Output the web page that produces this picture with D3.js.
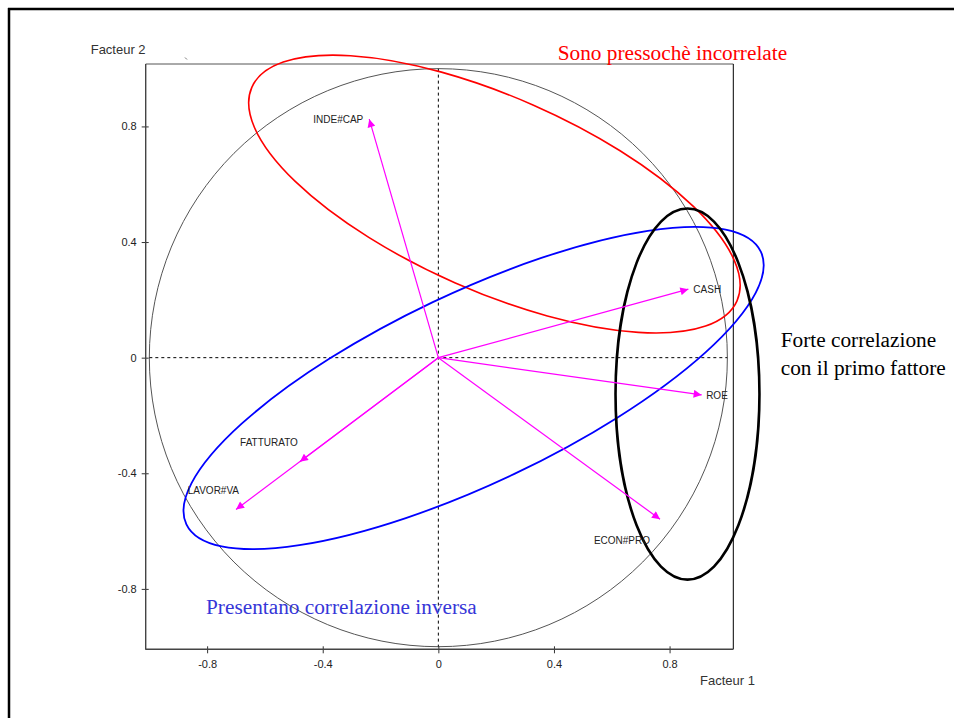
<!DOCTYPE html>
<html><head><meta charset="utf-8">
<script src="https://cdn.jsdelivr.net/npm/d3@7"></script>
<style>
html,body{margin:0;padding:0;background:#fff;}
svg{display:block;}
</style></head>
<body>
<script>
// ---- data ----
const variables = ["INDE#CAP","CASH","ROE","ECON#PRO","FATTURATO","LAVOR#VA"];
const factor1 = [-0.239, 0.865, 0.911, 0.767, -0.479, -0.700];
const factor2 = [0.825, 0.237, -0.129, -0.559, -0.360, -0.525];
const tickValues = [-0.8, -0.4, 0, 0.4, 0.8];
const axisTitles = ["Facteur 1", "Facteur 2"];
const groupNotes = ["Sono pressochè incorrelate", "Presentano correlazione inversa", "Forte correlazione", "con il primo fattore"];
// grouping ellipses (centre and radii in factor units, angle in degrees)
const ellipseCx = [0.194, 0.122, 0.862];
const ellipseCy = [0.566, -0.105, -0.126];
const ellipseRx = [0.917, 1.100, 0.249];
const ellipseRy = [0.336, 0.329, 0.642];
const ellipseAngle = [23.75, -25.4, 0];

// label placement (anchor, dx, dy in px) – layout only
const labelPlace = [["end",-6,4],["start",5,4],["start",4.5,4],["end",-10,25],["end",-2,-16],["end",3,-15]];

const W = 954, H = 718;
const svg = d3.select("body").append("svg").attr("width", W).attr("height", H);

const x = d3.scaleLinear().domain([-1.0125, 1.0205]).range([145.7, 733.3]);
const y = d3.scaleLinear().domain([-1.009, 1.016]).range([649.3, 64]);
const k = x(1) - x(0);

// outer frame
svg.append("line").attr("x1",8).attr("x2",W).attr("y1",9).attr("y2",9).attr("stroke","#000").attr("stroke-width",2.5);
svg.append("line").attr("x1",9).attr("x2",9).attr("y1",8).attr("y2",H).attr("stroke","#000").attr("stroke-width",2.5);
svg.append("line").attr("x1",185).attr("y1",57.5).attr("x2",187).attr("y2",59.5).attr("stroke","#777").attr("stroke-width",1);

// plot box
const x0 = x.range()[0], x1 = x.range()[1], yTop = y.range()[1], yBot = y.range()[0];
svg.append("line").attr("x1",x0).attr("x2",x1).attr("y1",yTop).attr("y2",yTop).attr("stroke","#555").attr("stroke-width",1);
svg.append("line").attr("x1",x1).attr("x2",x1).attr("y1",yTop).attr("y2",yBot).attr("stroke","#000").attr("stroke-width",1);

const fmt = d => String(d);
const gy = svg.append("g").attr("transform",`translate(${x0},0)`)
  .call(d3.axisLeft(y).tickValues(tickValues).tickFormat(fmt).tickSize(4).tickPadding(5));
const gx = svg.append("g").attr("transform",`translate(0,${yBot})`)
  .call(d3.axisBottom(x).tickValues(tickValues).tickFormat(fmt).tickSize(4).tickPadding(6.7));
[gx, gy].forEach(g => {
  g.select(".domain").remove();
  g.selectAll("text").attr("font-family","Liberation Sans, Arial, sans-serif").attr("font-size",11).attr("fill","#222");
  g.selectAll(".tick line").attr("stroke","#333");
});
svg.append("line").attr("x1",x0).attr("x2",x0).attr("y1",yTop).attr("y2",yBot+0.5).attr("stroke","#444").attr("stroke-width",1.4);
svg.append("line").attr("x1",x0).attr("x2",x1).attr("y1",yBot).attr("y2",yBot).attr("stroke","#444").attr("stroke-width",1.4);
gy.selectAll(".tick line").attr("x1",3).attr("x2",-4);
gx.selectAll(".tick line").attr("y1",-3).attr("y2",4);

// axis titles
svg.append("text").attr("x",90.7).attr("y",53.5).text(axisTitles[1])
  .attr("font-family","Liberation Sans, Arial, sans-serif").attr("font-size",13).attr("fill","#333");
svg.append("text").attr("x",700).attr("y",684.5).text(axisTitles[0])
  .attr("font-family","Liberation Sans, Arial, sans-serif").attr("font-size",13).attr("fill","#333");

// correlation circle
svg.append("circle").attr("cx",x(0)).attr("cy",y(0)).attr("r",k)
  .attr("fill","none").attr("stroke","#555").attr("stroke-width",1);

// dashed axes
svg.append("line").attr("x1",x(-1)).attr("x2",x(1)).attr("y1",y(0)).attr("y2",y(0))
  .attr("stroke","#000").attr("stroke-width",1).attr("stroke-dasharray","3,3");
svg.append("line").attr("x1",x(0)).attr("x2",x(0)).attr("y1",y(1)).attr("y2",y(-1))
  .attr("stroke","#000").attr("stroke-width",1).attr("stroke-dasharray","3,3");

// ellipses
const ellColors = ["#ff0000","#0000ff","#000000"];
const ellWidths = [1.6,1.8,2.6];
ellipseCx.forEach((cx,i) => {
  svg.append("ellipse")
    .attr("cx",0).attr("cy",0).attr("rx",ellipseRx[i]*k).attr("ry",ellipseRy[i]*k)
    .attr("transform",`translate(${x(cx)},${y(ellipseCy[i])}) rotate(${ellipseAngle[i]})`)
    .attr("fill","none").attr("stroke",ellColors[i]).attr("stroke-width",ellWidths[i]);
});

// vectors
svg.append("defs").append("marker").attr("id","ah")
  .attr("viewBox","0 0 10 10").attr("refX",10).attr("refY",5)
  .attr("markerWidth",9).attr("markerHeight",8).attr("markerUnits","userSpaceOnUse")
  .attr("orient","auto")
  .append("path").attr("d","M0,0L10,5L0,10Z").attr("fill","#ff00ff");

const pts = variables.map((v,i)=>({name:v, fx:factor1[i], fy:factor2[i], place:labelPlace[i]}));
svg.append("g").selectAll("line").data(pts).join("line")
  .attr("x1",x(0)).attr("y1",y(0)).attr("x2",d=>x(d.fx)).attr("y2",d=>y(d.fy))
  .attr("stroke","#ff00ff").attr("stroke-width",1.2).attr("marker-end","url(#ah)");
svg.append("g").selectAll("text").data(pts).join("text")
  .attr("x",d=>x(d.fx)+d.place[1]).attr("y",d=>y(d.fy)+d.place[2])
  .attr("text-anchor",d=>d.place[0])
  .attr("font-family","Liberation Sans, Arial, sans-serif").attr("font-size",10).attr("fill","#222")
  .text(d=>d.name);

// group notes
const serif = "Liberation Serif, Times New Roman, serif";
svg.append("text").attr("x",557.7).attr("y",60).text(groupNotes[0])
  .attr("font-family",serif).attr("font-size",21.3).attr("fill","#ff0000");
svg.append("text").attr("x",206).attr("y",614).text(groupNotes[1])
  .attr("font-family",serif).attr("font-size",21.3).attr("fill","#3636d8");
svg.append("text").attr("x",780.7).attr("y",347).text(groupNotes[2])
  .attr("font-family",serif).attr("font-size",21.3).attr("fill","#000");
svg.append("text").attr("x",780.7).attr("y",375).text(groupNotes[3])
  .attr("font-family",serif).attr("font-size",21.3).attr("fill","#000");
</script>
</body></html>
